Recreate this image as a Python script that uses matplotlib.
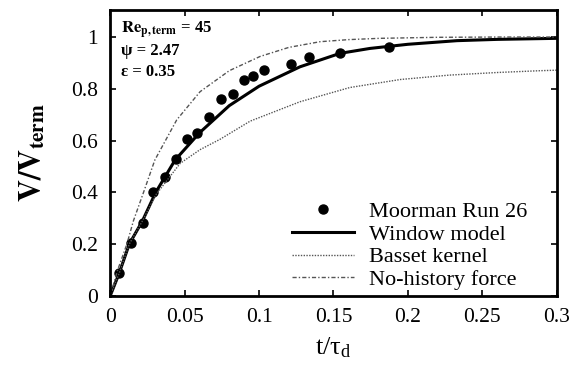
import matplotlib
matplotlib.use("Agg")
import matplotlib.pyplot as plt

plt.rcParams["font.family"] = ["Liberation Serif", "DejaVu Serif"]
plt.rcParams["mathtext.fontset"] = "stix"

# Moorman Run 26 experimental points
exp_t = [0.0062, 0.0139, 0.0217, 0.029, 0.0367, 0.0443, 0.0515, 0.0586, 0.0666,
         0.0743, 0.0823, 0.0899, 0.0962, 0.1034, 0.1213, 0.1338, 0.1544, 0.187]
exp_v = [0.088, 0.206, 0.283, 0.40, 0.46, 0.53, 0.605, 0.63, 0.69,
         0.762, 0.78, 0.834, 0.849, 0.873, 0.896, 0.921, 0.94, 0.96]

# window model
win_t = [0, 0.006, 0.0128, 0.0217, 0.0306, 0.0436, 0.06, 0.08, 0.1, 0.1275,
         0.1544, 0.1745, 0.2, 0.233, 0.26, 0.3]
win_v = [0, 0.087, 0.2, 0.29, 0.40, 0.525, 0.63, 0.735, 0.81, 0.885,
         0.937, 0.956, 0.972, 0.986, 0.991, 0.995]

# Basset kernel
bas_t = [0, 0.006, 0.0128, 0.0217, 0.0306, 0.047, 0.0604, 0.0738, 0.094, 0.1275,
         0.161, 0.195, 0.228, 0.26, 0.289, 0.3]
bas_v = [0, 0.087, 0.2, 0.29, 0.39, 0.512, 0.565, 0.605, 0.675, 0.75,
         0.805, 0.836, 0.853, 0.863, 0.87, 0.872]

# no-history force
noh_t = [0, 0.005, 0.0112, 0.0156, 0.0224, 0.03, 0.0447, 0.0604, 0.08, 0.1007,
         0.12, 0.141, 0.16, 0.181, 0.22, 0.26, 0.3]
noh_v = [0, 0.1, 0.2, 0.29, 0.40, 0.525, 0.68, 0.789, 0.87, 0.925,
         0.96, 0.982, 0.99, 0.995, 0.999, 1.0, 1.0]

fig = plt.figure(figsize=(5.71, 3.75), dpi=100)
ax = fig.add_axes([0.193, 0.211, 0.782, 0.762])

ax.plot(exp_t, exp_v, "o", color="black", markersize=6.5, label="Moorman Run 26")
ax.plot(win_t, win_v, "-", color="black", linewidth=2.2, label="Window model")
ax.plot(bas_t, bas_v, linestyle=(0, (1, 1)), color="#555555", linewidth=1.0,
        label="Basset kernel")
ax.plot(noh_t, noh_v, linestyle=(0, (3, 1.5, 1, 1.5)), color="#555555", linewidth=1.0,
        label="No-history force")

ax.set_xlim(0, 0.3)
ax.set_ylim(0, 1.104)
ax.set_xticks([0, 0.05, 0.1, 0.15, 0.2, 0.25, 0.3])
ax.set_xticklabels(["0", "0.05", "0.1", "0.15", "0.2", "0.25", "0.3"])
ax.set_yticks([0, 0.2, 0.4, 0.6, 0.8, 1.0])
ax.set_yticklabels(["0", "0.2", "0.4", "0.6", "0.8", "1"])
ax.tick_params(direction="in", top=True, right=True, length=4, width=1.2,
               labelsize=15.5)
ax.tick_params(axis="x", pad=9)
ax.tick_params(axis="y", pad=9)
for s in ax.spines.values():
    s.set_linewidth(2)

ax.set_xlabel(r"t/$\mathregular{\tau_d}$", fontsize=19, labelpad=6)
ax.set_ylabel(r"$\mathbf{V/V_{term}}$", fontsize=22, labelpad=17)

ax.text(0.025, 0.965, r"$\mathbf{Re_{p,term}}$ = 45", transform=ax.transAxes,
        fontsize=12, fontweight="bold", va="top")
ax.text(0.025, 0.885, "ψ = 2.47", transform=ax.transAxes,
        fontsize=12, fontweight="bold", va="top")
ax.text(0.025, 0.81, "ε = 0.35", transform=ax.transAxes,
        fontsize=12, fontweight="bold", va="top")

ax.legend(loc="lower right", frameon=False, fontsize=16, handlelength=2.8,
          labelspacing=0.1, handletextpad=0.7, borderaxespad=0, borderpad=0,
          bbox_to_anchor=(0.935, 0.02))

fig.savefig("out.png", dpi=100)
